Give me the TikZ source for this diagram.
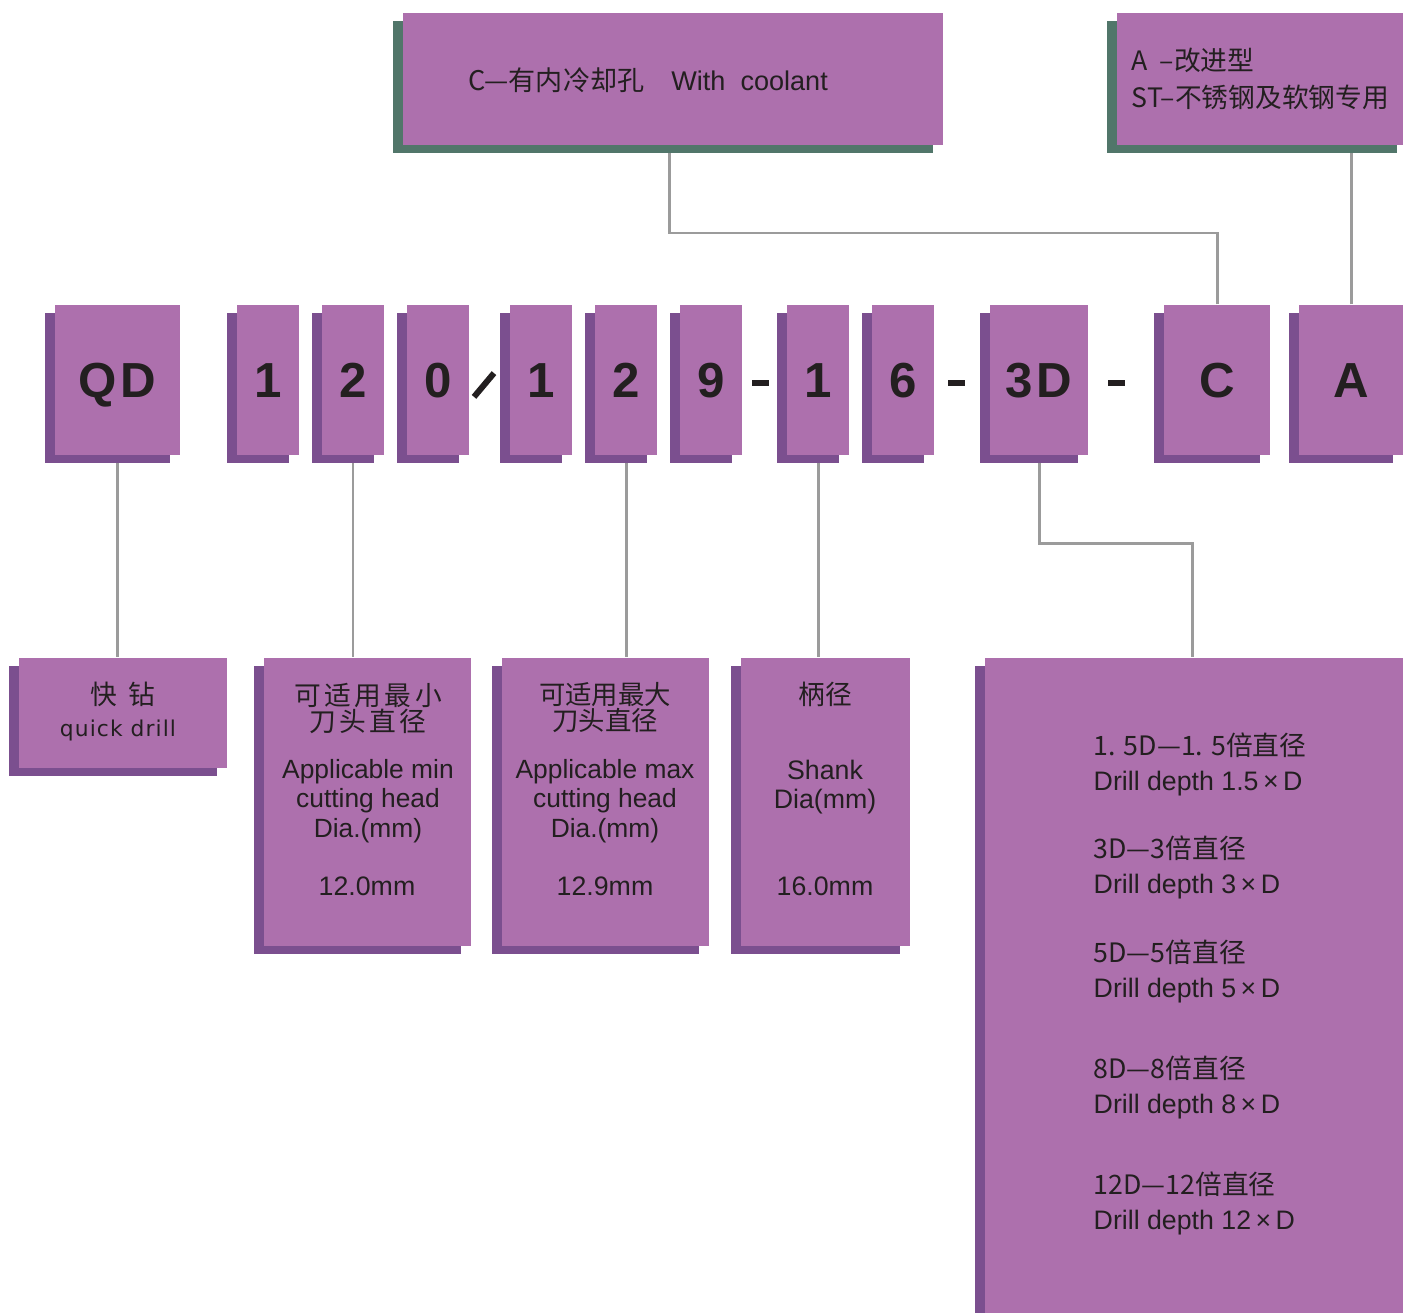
\documentclass[tikz,border=0pt]{standalone}
\usepackage{fontspec}
\setmainfont{Liberation Sans}
\newfontfamily\cjk{Noto Sans CJK SC}
\newfontfamily\qdfont{DejaVu Sans}[LetterSpace=5]
\usepackage{tikz}
\usetikzlibrary{shadows, backgrounds}
\definecolor{boxP}{RGB}{173,112,173}
\definecolor{shadeP}{RGB}{123,79,143}
\definecolor{shadeG}{RGB}{81,118,106}
\definecolor{inkD}{RGB}{35,31,32}
\definecolor{wireG}{RGB}{155,155,155}
\tikzset{
  codebox/.style  = {rectangle, fill=boxP, minimum height=1.5cm, inner sep=0pt, text=inkD,
                     text height=10pt, text depth=0pt,
                     general shadow={fill=shadeP, shadow xshift=-0.1cm, shadow yshift=-0.08cm},
                     font=\fontsize{14}{16}\selectfont\bfseries},
  infobox/.style  = {rectangle, fill=boxP, inner sep=0pt,
                     general shadow={fill=shadeP, shadow xshift=-0.1cm, shadow yshift=-0.08cm}},
  notebox/.style  = {rectangle, fill=boxP, inner sep=0pt, minimum height=1.32cm,
                     general shadow={fill=shadeG, shadow xshift=-0.1cm, shadow yshift=-0.08cm}},
  sepbar/.style   = {rectangle, fill=inkD, inner sep=0pt, minimum width=0.17cm, minimum height=0.06cm},
  infotext/.style = {text=inkD, inner sep=0pt, font=\fontsize{7.6}{9}\selectfont},
  wire/.style     = {draw=wireG, line width=0.85pt},
}
\begin{document}
\begin{tikzpicture}[x=0.01cm, y=-0.01cm]
    \useasboundingbox (0,0) rectangle (1403,1312);

    %% Code boxes
    \foreach \n/\x/\w/\lbl in {
      qd/117.5/125/{Q\kern1pt D},
      na/268/62/1, nb/353/62/2, nc/438/62/0,
      xa/541/62/1, xb/626/62/2, xc/711/62/9,
      sa/818/62/1, sb/903/62/6,
      dp/1039/98/{3\kern1pt D}, cl/1217/106/C, md/1351/104/A}
    {
      \node[codebox, minimum width=\w*0.01cm] (\n) at (\x,380) {\lbl};
    }

    %% Separators
    \node[sepbar, minimum width=0.31cm, rotate=50] (sl) at (484,385) {};
    \foreach \n/\x in {ka/760, kb/956, kc/1116}
      \node[sepbar] (\n) at (\x,383) {};

    %% Notes on top
    \node[notebox, minimum width=5.4cm] (cool) at (673,79) {};
    \node[infotext, font=\fontsize{7.7}{9}\selectfont] (coolt) at (648,80)
         {{\cjk C—有内冷却孔}\quad With\ \ coolant};
    \node[notebox, minimum width=2.9cm] (modi) at (1262,79) {};
    \node[infotext, anchor=west, align=left, font=\fontsize{7.6}{10.5}\selectfont] (modt) at (1131,79)
         {\cjk A\ \ –改进型\\\cjk ST–不锈钢及软钢专用};

    %% Description boxes
    \node[infobox, minimum width=2.08cm, minimum height=1.1cm] (qdd) at (123,713) {};
    \node[infotext] (qdz) at (123,694) {\cjk 快\ \ 钻};
    \node[infotext, font=\fontsize{6.2}{8}\selectfont] (qde) at (118,730) {\qdfont quick drill};

    \node[infobox, minimum width=2.07cm, minimum height=2.88cm] (mind) at (367.5,802) {};
    \node[infotext, align=center, font=\fontsize{7.6}{7.4}\selectfont] (minz) at (368,708)
         {\cjk 可\kern1pt 适\kern1pt 用\kern1pt 最\kern1pt 小\\\cjk 刀\kern1pt 头\kern1pt 直\kern1pt 径};
    \node[infotext, align=center, font=\fontsize{7.5}{8.4}\selectfont] (mine) at (368,801)
         {Applicable min\\cutting head\\Dia.(mm)};
    \node[infotext] (minv) at (367,886) {12.0mm};

    \node[infobox, minimum width=2.07cm, minimum height=2.88cm] (maxd) at (605.5,802) {};
    \node[infotext, align=center, font=\fontsize{7.5}{7.4}\selectfont] (maxz) at (605,708)
         {\cjk 可适用最大\\\cjk 刀头直径};
    \node[infotext, align=center, font=\fontsize{7.5}{8.4}\selectfont] (maxe) at (605,801)
         {Applicable max\\cutting head\\Dia.(mm)};
    \node[infotext] (maxv) at (605,886) {12.9mm};

    \node[infobox, minimum width=1.69cm, minimum height=2.88cm] (shkd) at (825.5,802) {};
    \node[infotext] (shkz) at (825,694) {\cjk 柄径};
    \node[infotext, align=center, font=\fontsize{7.6}{8.4}\selectfont] (shke) at (825,787)
         {Shank\\Dia(mm)};
    \node[infotext] (shkv) at (825,886) {16.0mm};

    \node[infobox, minimum width=4.2cm, minimum height=6.64cm] (depd) at (1195,990) {};
    \foreach \y/\zh/\en [count=\i] in {
      745/{1. 5D—1. 5倍直径}/1.5,
      848/{3D—3倍直径}/3,
      952/{5D—5倍直径}/5,
      1068/{8D—8倍直径}/8,
      1184/{12D—12倍直径}/12}
    {
      \node[infotext] (zh\i) [anchor=west] at (1093,\y) {\cjk \zh};
      \node[infotext] (en\i) [anchor=west] at (1093,\y+39) {Drill depth \en\,×\,D};
    }

    %% Connectors
    \coordinate (bend) at (1192,543);
    \coordinate (ctop) at (669,233);
    \begin{scope}[on background layer]
      \draw[wire] (qd.south) -- (qd.south |- qdd.north);
      \draw[wire] (nb.south) -- (nb.south |- mind.north);
      \draw[wire] (xb.south) -- (xb.south |- maxd.north);
      \draw[wire] (sa.south) -- (sa.south |- shkd.north);
      \draw[wire] (dp.south) |- (bend) -- (bend |- depd.north);
      \draw[wire] (cl.north) |- (ctop) -- (ctop |- cool.south);
      \draw[wire] (md.north) -- (md.north |- modi.south);
    \end{scope}

  \end{tikzpicture}
\end{document}
